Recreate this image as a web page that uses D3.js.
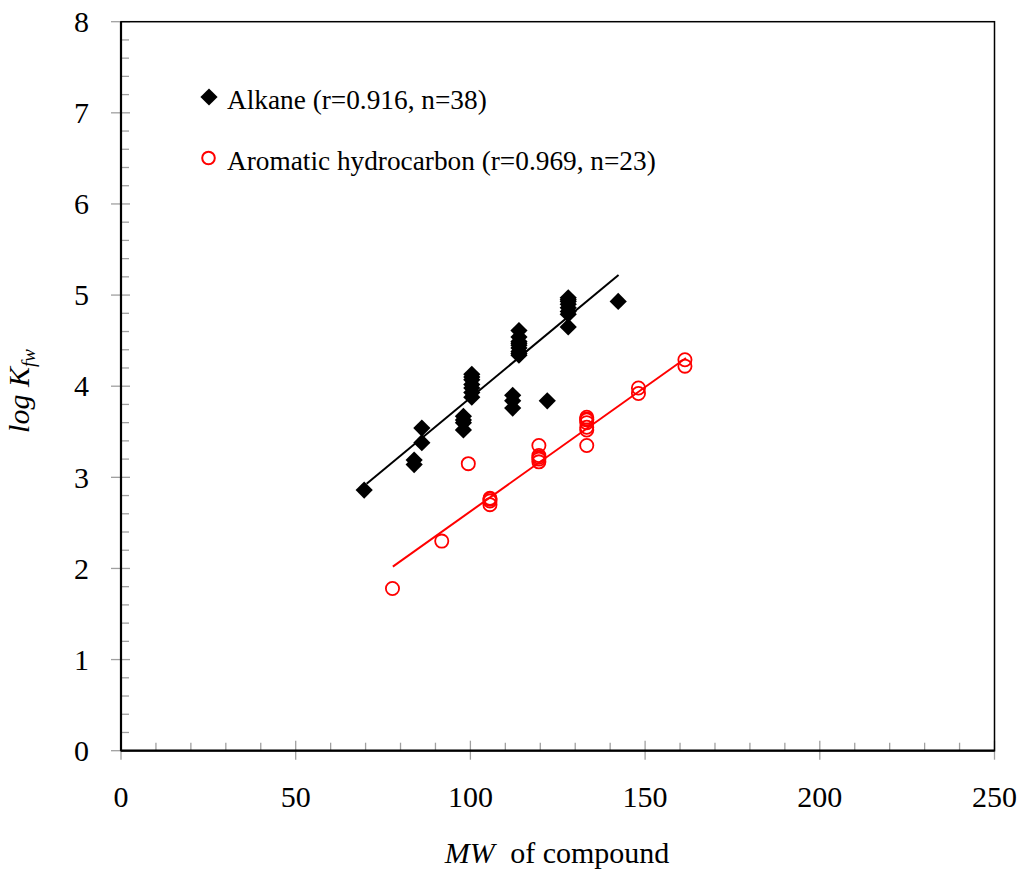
<!DOCTYPE html>
<html>
<head>
<meta charset="utf-8">
<script src="https://cdn.jsdelivr.net/npm/d3@7/dist/d3.min.js"></script>
<style>
  html, body { margin: 0; padding: 0; background: #fff; }
  svg { display: block; }
  text { font-family: "Liberation Serif", "Times New Roman", serif; fill: #000; }
</style>
</head>
<body>
<svg id="chart" width="1024" height="882"></svg>
<script>
// ---- data ----
const alkaneMW   = [69.6, 83.9, 83.9, 86.1, 86.1, 98.0, 98.0, 98.0, 98.0,
                    100.4, 100.4, 100.4, 100.4, 100.4, 100.4, 100.4,
                    112.1, 112.1, 112.1, 122.0,
                    113.9, 113.9, 113.9, 113.9, 113.9, 113.9, 113.9, 113.9, 113.9,
                    128.0, 128.0, 128.0, 128.0, 128.0, 128.0, 128.0, 128.0, 142.3];
const alkaneLogK = [2.86, 3.19, 3.14, 3.38, 3.54, 3.67, 3.63, 3.60, 3.52,
                    4.13, 4.10, 4.07, 4.02, 3.98, 3.93, 3.88,
                    3.90, 3.84, 3.76, 3.84,
                    4.61, 4.54, 4.49, 4.47, 4.45, 4.42, 4.38, 4.36, 4.34,
                    4.97, 4.95, 4.93, 4.90, 4.86, 4.82, 4.79, 4.65, 4.93];
const aromaticMW   = [77.7, 91.8, 99.4, 105.6, 105.6, 105.6, 105.6,
                      119.6, 119.6, 119.6, 119.6, 119.6,
                      133.3, 133.3, 133.3, 133.3, 133.3, 133.3, 133.3,
                      148.1, 148.1, 161.4, 161.4];
const aromaticLogK = [1.78, 2.30, 3.15, 2.77, 2.76, 2.74, 2.70,
                      3.35, 3.24, 3.22, 3.20, 3.17,
                      3.66, 3.64, 3.63, 3.60, 3.55, 3.52, 3.35,
                      3.98, 3.92, 4.29, 4.22];
const alkaneFitMW = [70.3, 142.4];
const alkaneFitLogK = [2.93, 5.22];
const aromaticFitMW = [77.8, 161.7];
const aromaticFitLogK = [2.02, 4.31];
const xTicks = [0, 50, 100, 150, 200, 250];
const yTicks = [0, 1, 2, 3, 4, 5, 6, 7, 8];
const legendLabels = ["Alkane (r=0.916, n=38)", "Aromatic hydrocarbon (r=0.969, n=23)"];

// ---- layout ----
const svg = d3.select("#chart");
const L = 121, R = 994.5, T = 21.7, B = 750.7;
const x = d3.scaleLinear().domain([0, 250]).range([L, R]);
const y = d3.scaleLinear().domain([0, 8]).range([B, T]);
const tickColor = "#a0a0a0";

// minor ticks x (inside, every 10)
const xMinor = d3.range(0, 251, 10).filter(v => v % 50 !== 0);
svg.append("g").selectAll("line").data(xMinor).join("line")
  .attr("x1", d => x(d)).attr("x2", d => x(d))
  .attr("y1", B).attr("y2", B - 8)
  .attr("stroke", tickColor).attr("stroke-width", 1.3);
// major ticks x (crossing)
svg.append("g").selectAll("line").data(xTicks).join("line")
  .attr("x1", d => x(d)).attr("x2", d => x(d))
  .attr("y1", B - 10).attr("y2", B + 9)
  .attr("stroke", tickColor).attr("stroke-width", 1.3);
// minor ticks y
const yMinor = d3.range(0, 8.001, 0.2).map(v => +v.toFixed(1)).filter(v => Math.abs(v - Math.round(v)) > 0.01);
svg.append("g").selectAll("line").data(yMinor).join("line")
  .attr("x1", L).attr("x2", L + 8)
  .attr("y1", d => y(d)).attr("y2", d => y(d))
  .attr("stroke", tickColor).attr("stroke-width", 1.3);
svg.append("g").selectAll("line").data(yTicks).join("line")
  .attr("x1", L - 10).attr("x2", L + 9)
  .attr("y1", d => y(d)).attr("y2", d => y(d))
  .attr("stroke", tickColor).attr("stroke-width", 1.3);

// frame
svg.append("rect").attr("x", L).attr("y", T).attr("width", R - L).attr("height", B - T)
  .attr("fill", "none").attr("stroke", "#000").attr("stroke-width", 1.5);
svg.append("line").attr("x1", L).attr("x2", L).attr("y1", T).attr("y2", B).attr("stroke", "#000").attr("stroke-width", 2.2);
svg.append("line").attr("x1", L).attr("x2", R).attr("y1", B).attr("y2", B).attr("stroke", "#000").attr("stroke-width", 2.2);

// tick labels
svg.append("g").selectAll("text").data(xTicks).join("text")
  .attr("x", d => x(d)).attr("y", 807)
  .attr("text-anchor", "middle").attr("font-size", 30).text(d => d);
svg.append("g").selectAll("text").data(yTicks).join("text")
  .attr("x", 89).attr("y", d => y(d)).attr("dy", "0.34em")
  .attr("text-anchor", "end").attr("font-size", 30).text(d => d);

// axis titles
const xt = svg.append("text").attr("x", 557).attr("y", 863).attr("text-anchor", "middle").attr("font-size", 30);
xt.append("tspan").attr("font-style", "italic").text("MW");
xt.append("tspan").attr("dx", 8).text(" of compound");

const yt = svg.append("text").attr("transform", "translate(29,391) rotate(-90)")
  .attr("text-anchor", "middle").attr("font-size", 30).attr("font-style", "italic");
yt.append("tspan").text("log K");
yt.append("tspan").attr("font-size", 19).attr("dy", 6).text("fw");

// fit lines
const line = d3.line().x(d => x(d[0])).y(d => y(d[1]));
svg.append("path").attr("d", line(d3.zip(alkaneFitMW, alkaneFitLogK)))
  .attr("stroke", "#000").attr("stroke-width", 2).attr("fill", "none");
svg.append("path").attr("d", line(d3.zip(aromaticFitMW, aromaticFitLogK)))
  .attr("stroke", "#ff0000").attr("stroke-width", 2).attr("fill", "none");

// points
const diamond = s => `M0,${-s}L${s},0L0,${s}L${-s},0Z`;
svg.append("g").selectAll("path").data(d3.zip(alkaneMW, alkaneLogK)).join("path")
  .attr("transform", d => `translate(${x(d[0])},${y(d[1])})`)
  .attr("d", diamond(8.6)).attr("fill", "#000");
svg.append("g").selectAll("circle").data(d3.zip(aromaticMW, aromaticLogK)).join("circle")
  .attr("cx", d => x(d[0])).attr("cy", d => y(d[1])).attr("r", 6.6)
  .attr("fill", "none").attr("stroke", "#ff0000").attr("stroke-width", 1.8);

// legend
svg.append("path").attr("transform", "translate(209,97)").attr("d", diamond(8.6)).attr("fill", "#000");
svg.append("circle").attr("cx", 208.5).attr("cy", 158).attr("r", 6.3)
  .attr("fill", "none").attr("stroke", "#ff0000").attr("stroke-width", 2);
svg.append("text").attr("x", 227).attr("y", 109).attr("font-size", 27.3).text(legendLabels[0]);
svg.append("text").attr("x", 227).attr("y", 170).attr("font-size", 27.3).text(legendLabels[1]);
</script>
</body>
</html>
